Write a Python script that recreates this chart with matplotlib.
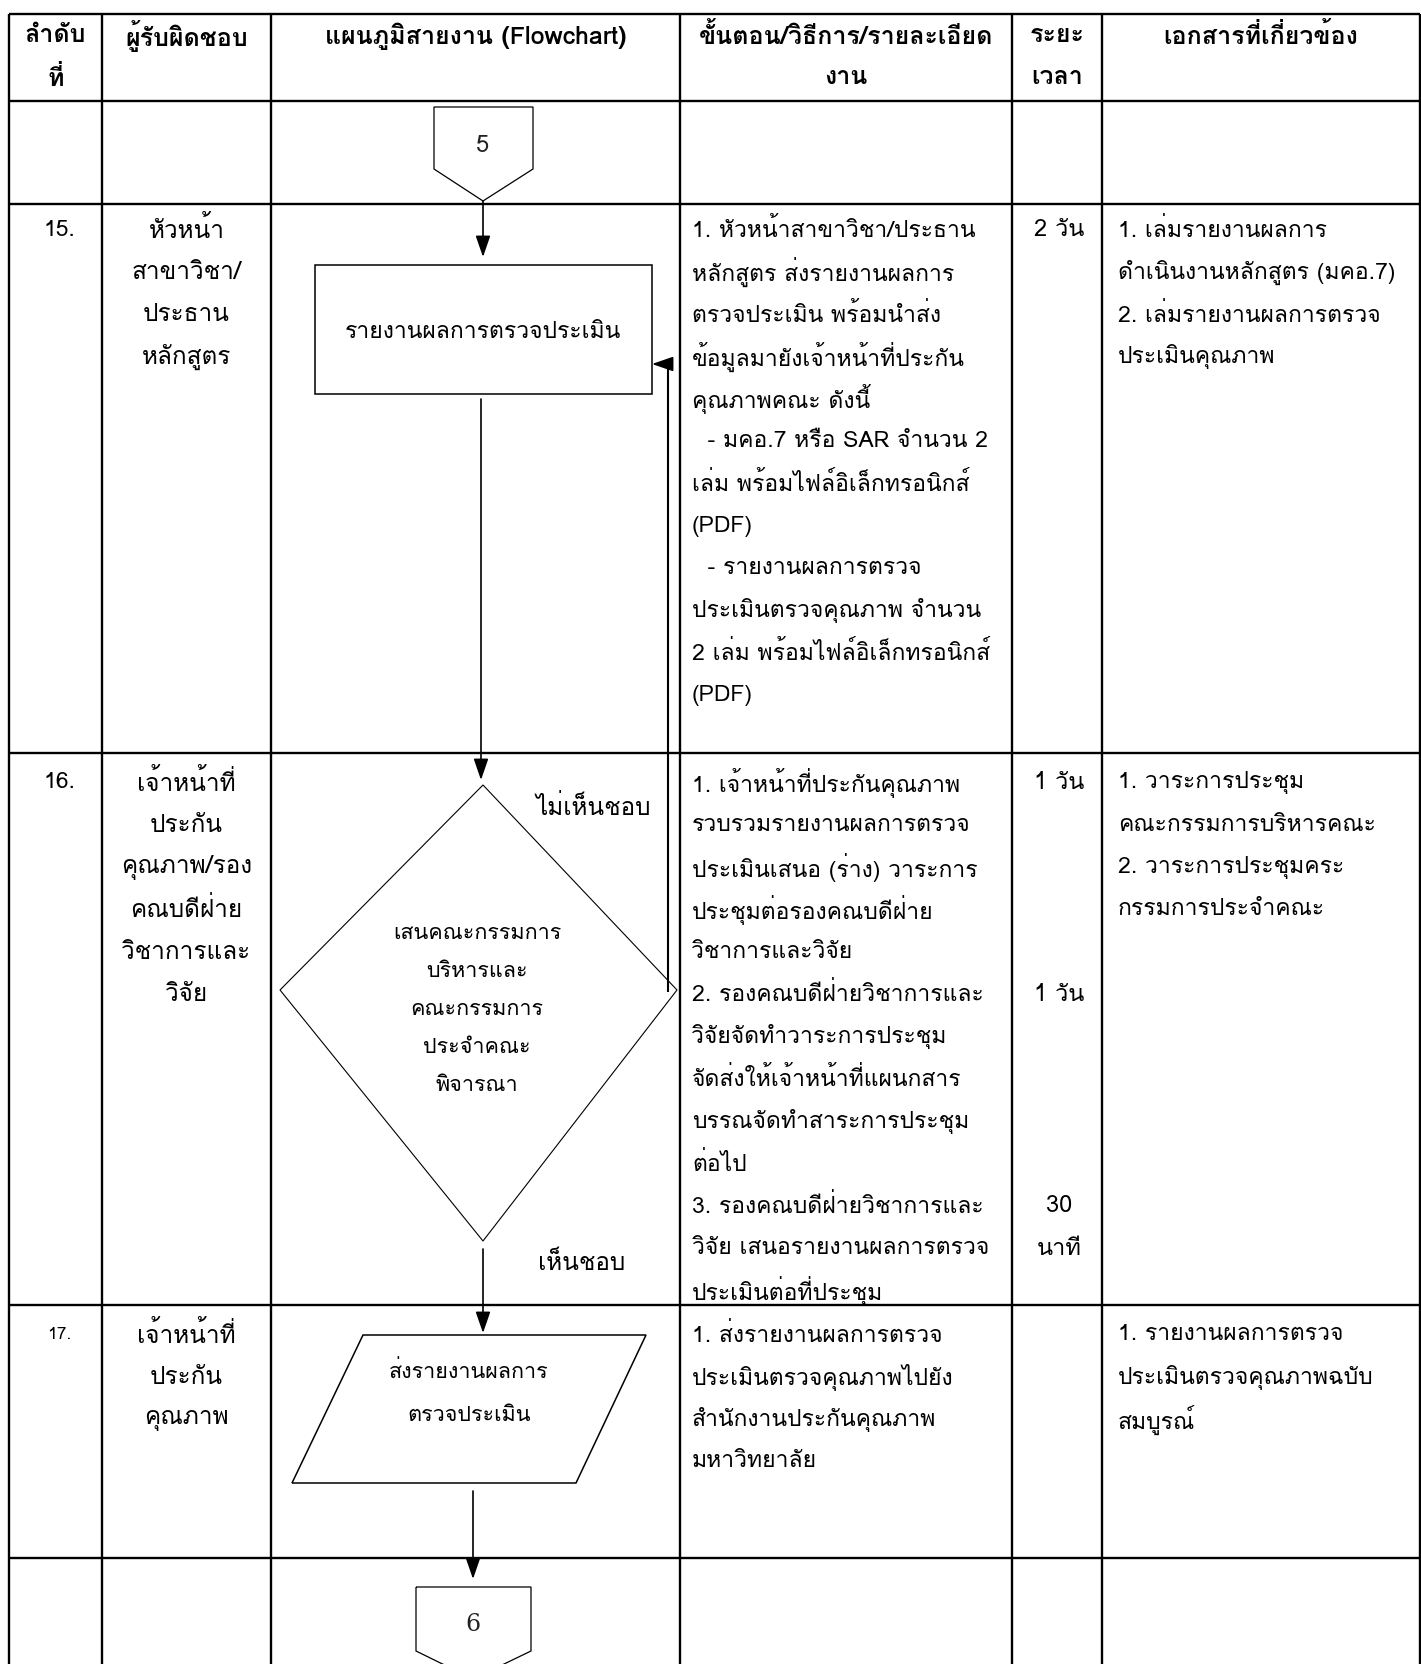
import matplotlib
matplotlib.use("Agg")
import matplotlib.pyplot as plt
from matplotlib import font_manager
from matplotlib.patches import Polygon, Rectangle

# ---------------- data ----------------
headers = [["ลำดับ", "ที่"], ["ผู้รับผิดชอบ"], ["แผนภูมิสายงาน (Flowchart)"],
           ["ขั้นตอน/วิธีการ/รายละเอียด", "งาน"], ["ระยะ", "เวลา"], ["เอกสารที่เกี่ยวข้อง"]]
step_numbers = ["15.", "16.", "17."]
responsible = [["หัวหน้า", "สาขาวิชา/", "ประธาน", "หลักสูตร"],
               ["เจ้าหน้าที่", "ประกัน", "คุณภาพ/รอง", "คณบดีฝ่าย", "วิชาการและ", "วิจัย"],
               ["เจ้าหน้าที่", "ประกัน", "คุณภาพ"]]
procedures = [["1. หัวหน้าสาขาวิชา/ประธาน", "หลักสูตร ส่งรายงานผลการ", "ตรวจประเมิน พร้อมนำส่ง",
               "ข้อมูลมายังเจ้าหน้าที่ประกัน", "คุณภาพคณะ ดังนี้", "  - มคอ.7 หรือ SAR จำนวน 2",
               "เล่ม พร้อมไฟล์อิเล็กทรอนิกส์", "(PDF)", "  - รายงานผลการตรวจ",
               "ประเมินตรวจคุณภาพ จำนวน", "2 เล่ม พร้อมไฟล์อิเล็กทรอนิกส์", "(PDF)"],
              ["1. เจ้าหน้าที่ประกันคุณภาพ", "รวบรวมรายงานผลการตรวจ", "ประเมินเสนอ (ร่าง) วาระการ",
               "ประชุมต่อรองคณบดีฝ่าย", "วิชาการและวิจัย", "2. รองคณบดีฝ่ายวิชาการและ",
               "วิจัยจัดทำวาระการประชุม", "จัดส่งให้เจ้าหน้าที่แผนกสาร", "บรรณจัดทำสาระการประชุม",
               "ต่อไป", "3. รองคณบดีฝ่ายวิชาการและ", "วิจัย เสนอรายงานผลการตรวจ", "ประเมินต่อที่ประชุม"],
              ["1. ส่งรายงานผลการตรวจ", "ประเมินตรวจคุณภาพไปยัง", "สำนักงานประกันคุณภาพ", "มหาวิทยาลัย"]]
durations = [[(0, "2 วัน")], [(0, "1 วัน"), (5, "1 วัน"), (10, "30"), (11, "นาที")], []]
documents = [["1. เล่มรายงานผลการ", "ดำเนินงานหลักสูตร (มคอ.7)", "2. เล่มรายงานผลการตรวจ", "ประเมินคุณภาพ"],
             ["1. วาระการประชุม", "คณะกรรมการบริหารคณะ", "2. วาระการประชุมคระ", "กรรมการประจำคณะ"],
             ["1. รายงานผลการตรวจ", "ประเมินตรวจคุณภาพฉบับ", "สมบูรณ์"]]
connector_in = "5"
connector_out = "6"
process_label = "รายงานผลการตรวจประเมิน"
decision_label = ["เสนคณะกรรมการ", "บริหารและ", "คณะกรรมการ", "ประจำคณะ", "พิจารณา"]
reject_label = "ไม่เห็นชอบ"
approve_label = "เห็นชอบ"
output_label = ["ส่งรายงานผลการ", "ตรวจประเมิน"]


# ---------------- fonts ----------------
def find_thai_font():
    try:
        from fontTools.ttLib import TTFont
    except Exception:
        return None
    for f in font_manager.fontManager.ttflist:
        try:
            tt = TTFont(f.fname, fontNumber=0, lazy=True)
            cmap = tt.getBestCmap()
            if cmap and 0x0E01 in cmap and 0x0E33 in cmap and 0x0E49 in cmap:
                return f.name
        except Exception:
            continue
    return None


thai = find_thai_font()
families = ([thai] if thai else []) + ["DejaVu Sans"]
plt.rcParams["font.family"] = families

# ---------------- layout ----------------
W, H = 1421, 1665
fig = plt.figure(figsize=(W / 100, H / 100), dpi=100)
ax = fig.add_axes([0, 0, 1, 1])
ax.set_xlim(0, W)
ax.set_ylim(H, 0)
ax.axis("off")

cols = [9, 102, 271, 680, 1012, 1102, 1420]
rows = [15, 102, 205, 754, 1306, 1559, H + 5]
LW = 1.7
for x in cols:
    ax.plot([x, x], [rows[0], rows[-1]], color="black", lw=LW, solid_capstyle="butt")
for y in rows[:-1]:
    ax.plot([cols[0], cols[-1]], [y, y], color="black", lw=LW, solid_capstyle="butt")

FS = 16.5
HFS = 18
# header
head_y = [36, 78]
for i, lines in enumerate(headers):
    cx = (cols[i] + cols[i + 1]) / 2
    for j, t in enumerate(lines):
        ax.text(cx, head_y[j], t, ha="center", va="center", fontsize=HFS, fontweight="bold")

LS = 42.3
row_top = [230, 783, 1335]
for r in range(3):
    y0 = row_top[r]
    ax.text((cols[0] + cols[1]) / 2 + 4, y0, step_numbers[r], ha="center", va="center",
            fontsize=FS if r < 2 else FS - 4)
    for k, t in enumerate(responsible[r]):
        ax.text((cols[1] + cols[2]) / 2, y0 + k * LS, t, ha="center", va="center", fontsize=FS + 1)
    for k, t in enumerate(procedures[r]):
        ax.text(cols[3] + 12, y0 + k * LS, t, ha="left", va="center", fontsize=FS)
    for k, t in durations[r]:
        ax.text((cols[4] + cols[5]) / 2 + 2, y0 + k * LS, t, ha="center", va="center", fontsize=FS + 0.5)
    for k, t in enumerate(documents[r]):
        ax.text(cols[5] + 16, y0 + k * LS, t, ha="left", va="center", fontsize=FS)

# ---------------- flowchart ----------------
SLW = 1.1


def arrow(x, y0, y1):
    ax.annotate("", xy=(x, y1), xytext=(x, y0),
                arrowprops=dict(arrowstyle="-|>,head_length=1.3,head_width=0.45",
                                color="black", lw=1.2, shrinkA=0, shrinkB=0))


# off-page connector 5
cx = 483
ax.add_patch(Polygon([(434, 108), (533, 108), (533, 170), (cx, 202), (434, 170)],
                     closed=True, fill=False, ec="black", lw=0.9))
ax.text(cx, 145, connector_in, ha="center", va="center", fontsize=17, color="#222222")
arrow(cx, 202, 258)

# process box
ax.add_patch(Rectangle((315, 266), 337, 129, fill=False, ec="black", lw=SLW))
ax.text(cx, 332, process_label, ha="center", va="center", fontsize=16.5)
arrow(481, 400, 781)

# decision
ax.add_patch(Polygon([(483, 786), (677, 991), (483, 1242), (280, 991)],
                     closed=True, fill=False, ec="black", lw=0.8))
for k, t in enumerate(decision_label):
    ax.text(477, 934 + k * 38, t, ha="center", va="center", fontsize=15.5)
ax.text(593, 808, reject_label, ha="center", va="center", fontsize=17.5)
ax.text(582, 1263, approve_label, ha="center", va="center", fontsize=17.5)

# feedback loop
ax.plot([668, 668], [993, 365], color="black", lw=1.5, solid_capstyle="butt")
ax.annotate("", xy=(652, 365), xytext=(668, 365),
            arrowprops=dict(arrowstyle="-|>,head_length=1.3,head_width=0.45",
                            color="black", lw=1.2, shrinkA=0, shrinkB=0))

arrow(483, 1250, 1334)

# output parallelogram
ax.add_patch(Polygon([(363, 1336), (646, 1336), (576, 1484), (292, 1484)],
                     closed=True, fill=False, ec="black", lw=SLW))
ax.text(469, 1372, output_label[0], ha="center", va="center", fontsize=15.5)
ax.text(469, 1416, output_label[1], ha="center", va="center", fontsize=15.5)
arrow(473, 1492, 1580)

# off-page connector 6
ax.add_patch(Polygon([(416, 1588), (531, 1588), (531, 1652), (473, 1680), (416, 1652)],
                     closed=True, fill=False, ec="black", lw=0.9, clip_on=True))
ax.text(473, 1625, connector_out, ha="center", va="center", fontsize=17, color="#222222",
        family=["DejaVu Serif"])

fig.savefig("out.png", dpi=100)
